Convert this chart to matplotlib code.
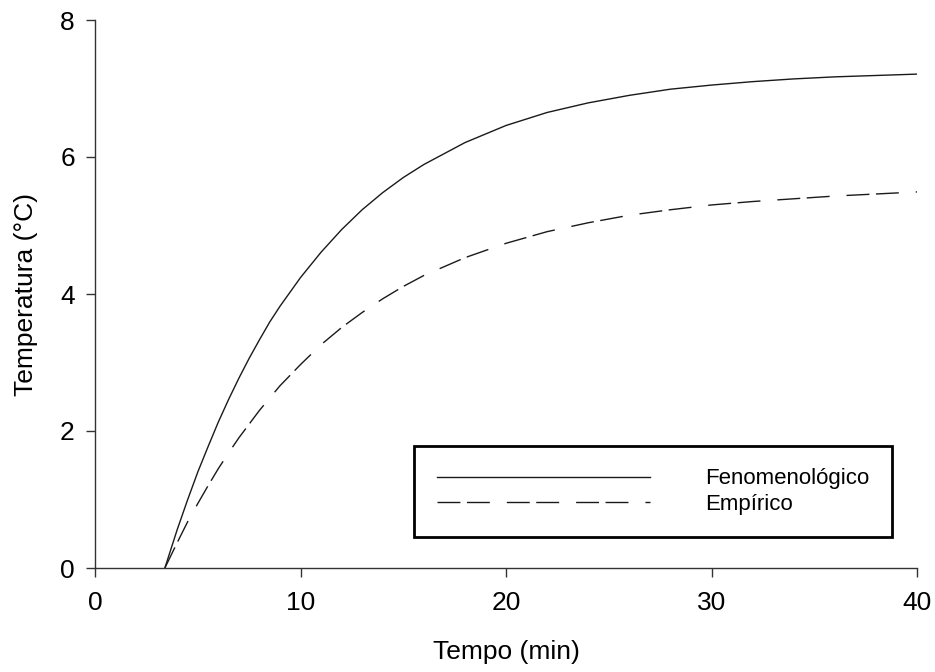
import matplotlib
matplotlib.use("Agg")
import matplotlib.pyplot as plt

plt.rcParams['font.family'] = ['Liberation Sans', 'DejaVu Sans']
plt.rcParams['lines.scale_dashes'] = False

# Data
tempo = [3.4, 4, 4.5, 5, 5.5, 6, 6.5, 7, 7.5, 8, 8.5, 9, 10, 11, 12, 13, 14,
         15, 16, 18, 20, 22, 24, 26, 28, 30, 32, 34, 36, 38, 40]
fenomenologico = [0.0, 0.56, 0.99, 1.40, 1.77, 2.13, 2.46, 2.77, 3.06, 3.33,
                  3.59, 3.82, 4.24, 4.61, 4.94, 5.23, 5.48, 5.70, 5.89, 6.21,
                  6.46, 6.65, 6.79, 6.90, 6.99, 7.05, 7.10, 7.14, 7.17, 7.19,
                  7.21]
empirico = [0.0, 0.37, 0.67, 0.94, 1.20, 1.45, 1.68, 1.90, 2.10, 2.30, 2.48,
            2.66, 2.97, 3.26, 3.51, 3.73, 3.93, 4.11, 4.27, 4.53, 4.74, 4.91,
            5.04, 5.15, 5.23, 5.30, 5.35, 5.39, 5.43, 5.46, 5.49]
labels = ["Fenomenológico", "Empírico"]
xticks = [0, 10, 20, 30, 40]
yticks = [0, 2, 4, 6, 8]

fig = plt.figure(figsize=(9.35, 6.72), dpi=100)
ax = fig.add_axes([95/935, 1 - 568/672, (917-95)/935, (568-20)/672])

ax.plot(tempo, fenomenologico, color='#1a1a1a', lw=1.0, label=labels[0])
ax.plot(tempo, empirico, color='#1a1a1a', lw=1.0,
        linestyle=(0, (16.5, 4.7, 16.5, 12.2)), label=labels[1])

ax.set_xlim(0, 40)
ax.set_ylim(0, 8)
ax.set_xticks(xticks)
ax.set_yticks(yticks)
for s in ['top', 'right']:
    ax.spines[s].set_visible(False)
for s in ['left', 'bottom']:
    ax.spines[s].set_color('#333333')
    ax.spines[s].set_linewidth(1.0)
ax.tick_params(direction='out', length=6.5, width=1.0, color='#333333',
               labelsize=19, pad=8)
ax.tick_params(axis='x', pad=10)

ax.set_xlabel("Tempo (min)", fontsize=19, labelpad=18)
ax.set_ylabel("Temperatura (°C)", fontsize=19, labelpad=16)

leg = ax.legend(loc='lower right', bbox_to_anchor=(0.9696, 0.0566),
                borderaxespad=0, fontsize=16, handlelength=9.6,
                handletextpad=2.5, borderpad=1.0, labelspacing=0.2,
                fancybox=False, framealpha=1, edgecolor='black')
leg.get_frame().set_linewidth(2.0)

fig.savefig("out.png", dpi=100)
